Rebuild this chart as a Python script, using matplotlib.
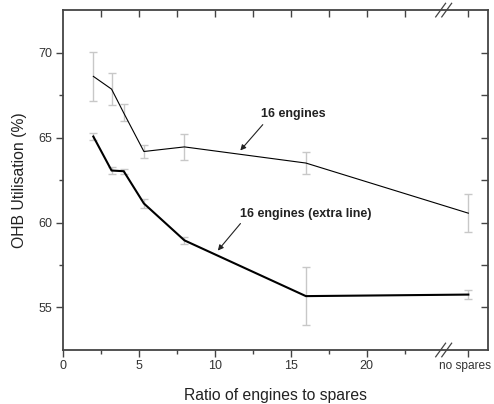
import matplotlib
matplotlib.use("Agg")
import matplotlib.pyplot as plt
import matplotlib.transforms as mtransforms
import numpy as np

plt.rcParams['font.family'] = ['Liberation Sans', 'DejaVu Sans']

x_vals = [2, 3.2, 4, 5.33, 8, 16, 26.7]
x_tick_pos = [0, 5, 10, 15, 20, 26.7]
x_tick_labels = ['0', '5', '10', '15', '20', 'no spares']
y_tick_pos = [55, 60, 65, 70]

s1_vals = [68.6, 67.85, 66.45, 64.18, 64.45, 63.5, 60.55]
s1_err = [1.45, 0.95, 0.5, 0.38, 0.77, 0.65, 1.13]
s2_vals = [65.06, 63.06, 63.02, 61.12, 58.95, 55.67, 55.76]
s2_err = [0.22, 0.2, 0.15, 0.25, 0.2, 1.7, 0.28]

fig = plt.figure(figsize=(4.94, 4.04), dpi=100)
ax = fig.add_axes([0.1275, 0.1337, 0.988 - 0.1275, 0.975 - 0.1337])

spc = '#444444'
ecol = '#c8c8c8'
ax.errorbar(x_vals, s1_vals, yerr=s1_err, color='black', lw=0.8,
            ecolor=ecol, elinewidth=1.0, capsize=3, capthick=1.0, zorder=3)
ax.errorbar(x_vals, s2_vals, yerr=s2_err, color='black', lw=1.5,
            ecolor=ecol, elinewidth=1.0, capsize=3, capthick=1.0, zorder=3)

ax.set_xlim(0, 28)
ax.set_ylim(52.5, 72.5)
ax.set_xticks(x_tick_pos)
ax.set_xticklabels(x_tick_labels)
ax.set_xticks([2.5, 7.5, 12.5, 17.5, 22.5], minor=True)
ax.set_yticks(y_tick_pos)
ax.set_yticks([57.5, 62.5, 67.5], minor=True)

for s in ax.spines.values():
    s.set_color(spc)
    s.set_linewidth(1.3)

ax.tick_params(axis='both', which='major', direction='out', length=5, width=1.0,
               color=spc, labelsize=9, labelcolor='#333333', pad=2.5)
ax.tick_params(axis='both', which='minor', direction='out', length=3, width=1.0, color=spc)

# shift and shrink the "no spares" label slightly so it fits
last = ax.get_xticklabels()[-1]
last.set_fontsize(8.6)
last.set_transform(last.get_transform() +
                   mtransforms.ScaledTranslation(-3 / 100, 0, fig.dpi_scale_trans))

# top and right inward ticks
axt = ax.secondary_xaxis('top')
axt.set_xticks([2.5, 5, 7.5, 10, 12.5, 15, 17.5, 20, 22.5, 26.7])
axt.tick_params(direction='in', length=5, width=1.0, color=spc, labeltop=False)
axt.spines['top'].set_visible(False)
axr = ax.secondary_yaxis('right')
axr.set_yticks([55, 57.5, 60, 62.5, 65, 67.5, 70])
axr.tick_params(direction='in', length=5, width=1.0, color=spc, labelright=False)
axr.spines['right'].set_visible(False)

ax.set_xlabel('Ratio of engines to spares', fontsize=11.3, color='#222222', labelpad=11)
ax.set_ylabel('OHB Utilisation (%)', fontsize=11.3, color='#222222', labelpad=8)

# break marks
trans = ax.get_xaxis_transform()
for yb in (0, 1):
    ax.plot([24.55, 25.2], [yb - 0.02, yb + 0.02], transform=trans, color=spc,
            lw=0.9, clip_on=False, zorder=5)
    ax.plot([24.95, 25.6], [yb - 0.02, yb + 0.02], transform=trans, color=spc,
            lw=0.9, clip_on=False, zorder=5)

arrow_kw = dict(arrowstyle='-|>', color='#222222', lw=0.8,
                mutation_scale=8, shrinkA=0, shrinkB=0)
ax.text(13.03, 66.41, '16 engines', fontsize=9, fontweight='bold',
        color='#222222', ha='left', va='center')
ax.annotate('', xy=(11.68, 64.24), xytext=(13.16, 65.76), arrowprops=arrow_kw)
ax.text(11.64, 60.53, '16 engines (extra line)', fontsize=9, fontweight='bold',
        color='#222222', ha='left', va='center')
ax.annotate('', xy=(10.2, 58.35), xytext=(11.69, 59.94), arrowprops=arrow_kw)

fig.savefig('out.png', dpi=100)
